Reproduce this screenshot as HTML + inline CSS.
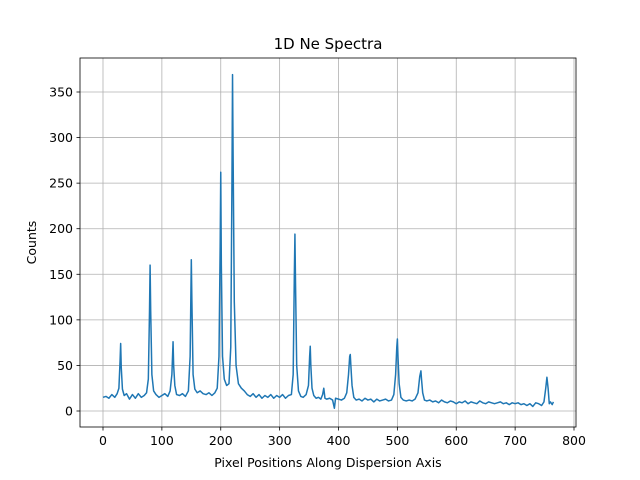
<!DOCTYPE html>
<html><head><meta charset="utf-8"><style>body{margin:0;background:#fff}svg{display:block;font-family:"DejaVu Sans","Liberation Sans",sans-serif}</style></head>
<body>
<svg id="chart" width="640" height="480" viewBox="0 0 640 480"></svg>
<script>
const xs=[0,5,10,15,20,24,27,29,30,31,33,36,40,45,50,55,60,65,70,74,77,79,80,81,83,86,90,95,100,105,110,114,117,119,120,122,125,130,135,140,145,148,150,151,153,156,160,165,170,175,180,185,190,194,197,199,200,201,203,206,210,214,217,219,220,221,223,226,230,235,240,245,250,255,260,265,270,275,280,285,290,295,300,305,310,315,320,323,325,326,327,329,332,336,340,345,349,351,352,353,355,358,362,366,370,373,375,377,380,385,390,393,395,400,405,410,414,417,419,420,421,423,426,430,435,440,445,450,455,460,465,470,475,480,485,490,494,497,499,500,501,503,506,510,515,520,525,530,535,538,540,541,543,546,550,555,560,565,570,575,580,585,590,595,600,605,610,615,620,625,630,635,640,645,650,655,660,665,670,675,680,685,690,695,700,705,710,715,720,725,730,735,740,745,749,752,754,756,758,760,763,765];
const ys=[15,16,14,18,15,19,25,55,74,48,24,17,19,13,18,14,19,15,17,20,35,110,160,110,40,22,18,15,17,19,16,22,40,76,50,28,18,17,19,16,22,60,166,120,40,24,20,22,19,18,20,17,20,25,60,180,262,160,60,35,28,30,70,250,369,280,120,50,30,25,22,18,16,19,15,18,14,17,15,18,14,17,15,18,14,17,18,40,150,194,140,50,22,16,15,18,28,60,71,50,25,17,14,15,13,18,25,14,13,14,12,3,14,13,12,14,20,40,60,62,50,28,15,12,13,11,14,12,13,10,13,11,12,13,11,12,18,40,70,79,60,30,15,12,11,12,11,13,20,38,44,35,20,12,11,12,10,11,9,12,10,9,11,10,8,10,9,11,8,10,9,8,11,9,8,10,9,8,9,10,8,9,7,9,8,9,7,8,6,8,5,9,8,6,10,25,37,25,8,10,7,10];
const xTicks=[0,100,200,300,400,500,600,700,800];
const yTicks=[0,50,100,150,200,250,300,350];
const L=80,R=576,T=58,B=427;
const sx=v=>103+v*(471/800);
const sy=v=>411-v*(319/350);
const svg=document.getElementById('chart');
const NS='http://www.w3.org/2000/svg';
function mk(tag,attrs,text){const e=document.createElementNS(NS,tag);for(const k in attrs)e.setAttribute(k,attrs[k]);if(text!==undefined)e.textContent=text;svg.appendChild(e);return e;}
xTicks.forEach(t=>{const x=sx(t);
const g=mk('line',{x1:x,x2:x,y1:T,y2:B,stroke:'#b0b0b0','stroke-width':0.8});


const tk=mk('line',{x1:x,x2:x,y1:B,y2:B+3.5,stroke:'#000','stroke-width':0.8});


const lb=mk('text',{x:x,y:B+18,'font-size':12.5,'text-anchor':'middle'},t);

});
yTicks.forEach(t=>{const y=sy(t);
const g=mk('line',{x1:L,x2:R,y1:y,y2:y,stroke:'#b0b0b0','stroke-width':0.8});


const tk=mk('line',{x1:L-3.5,x2:L,y1:y,y2:y,stroke:'#000','stroke-width':0.8});


const lb=mk('text',{x:L-7,y:y+4.5,'font-size':12.5,'text-anchor':'end'},t);

});
let d='';xs.forEach((x,i)=>{d+=(i?'L':'M')+sx(x).toFixed(2)+','+sy(ys[i]).toFixed(2);});
const line=mk('path',{d:d,fill:'none',stroke:'#1f77b4','stroke-width':1.5,'stroke-linejoin':'round'});


const fr=mk('rect',{x:L,y:T,width:R-L,height:B-T,fill:'none',stroke:'#000','stroke-width':0.8});


const ti=mk('text',{x:(L+R)/2,y:49,'font-size':15,'text-anchor':'middle'},'1D Ne Spectra');


const xl=mk('text',{x:(L+R)/2,y:467,'font-size':12.5,'text-anchor':'middle'},'Pixel Positions Along Dispersion Axis');


const yl=mk('text',{x:36,y:(T+B)/2,'font-size':12.5,'text-anchor':'middle',transform:'rotate(-90 36 '+((T+B)/2)+')'},'Counts');


</script>
</body></html>
